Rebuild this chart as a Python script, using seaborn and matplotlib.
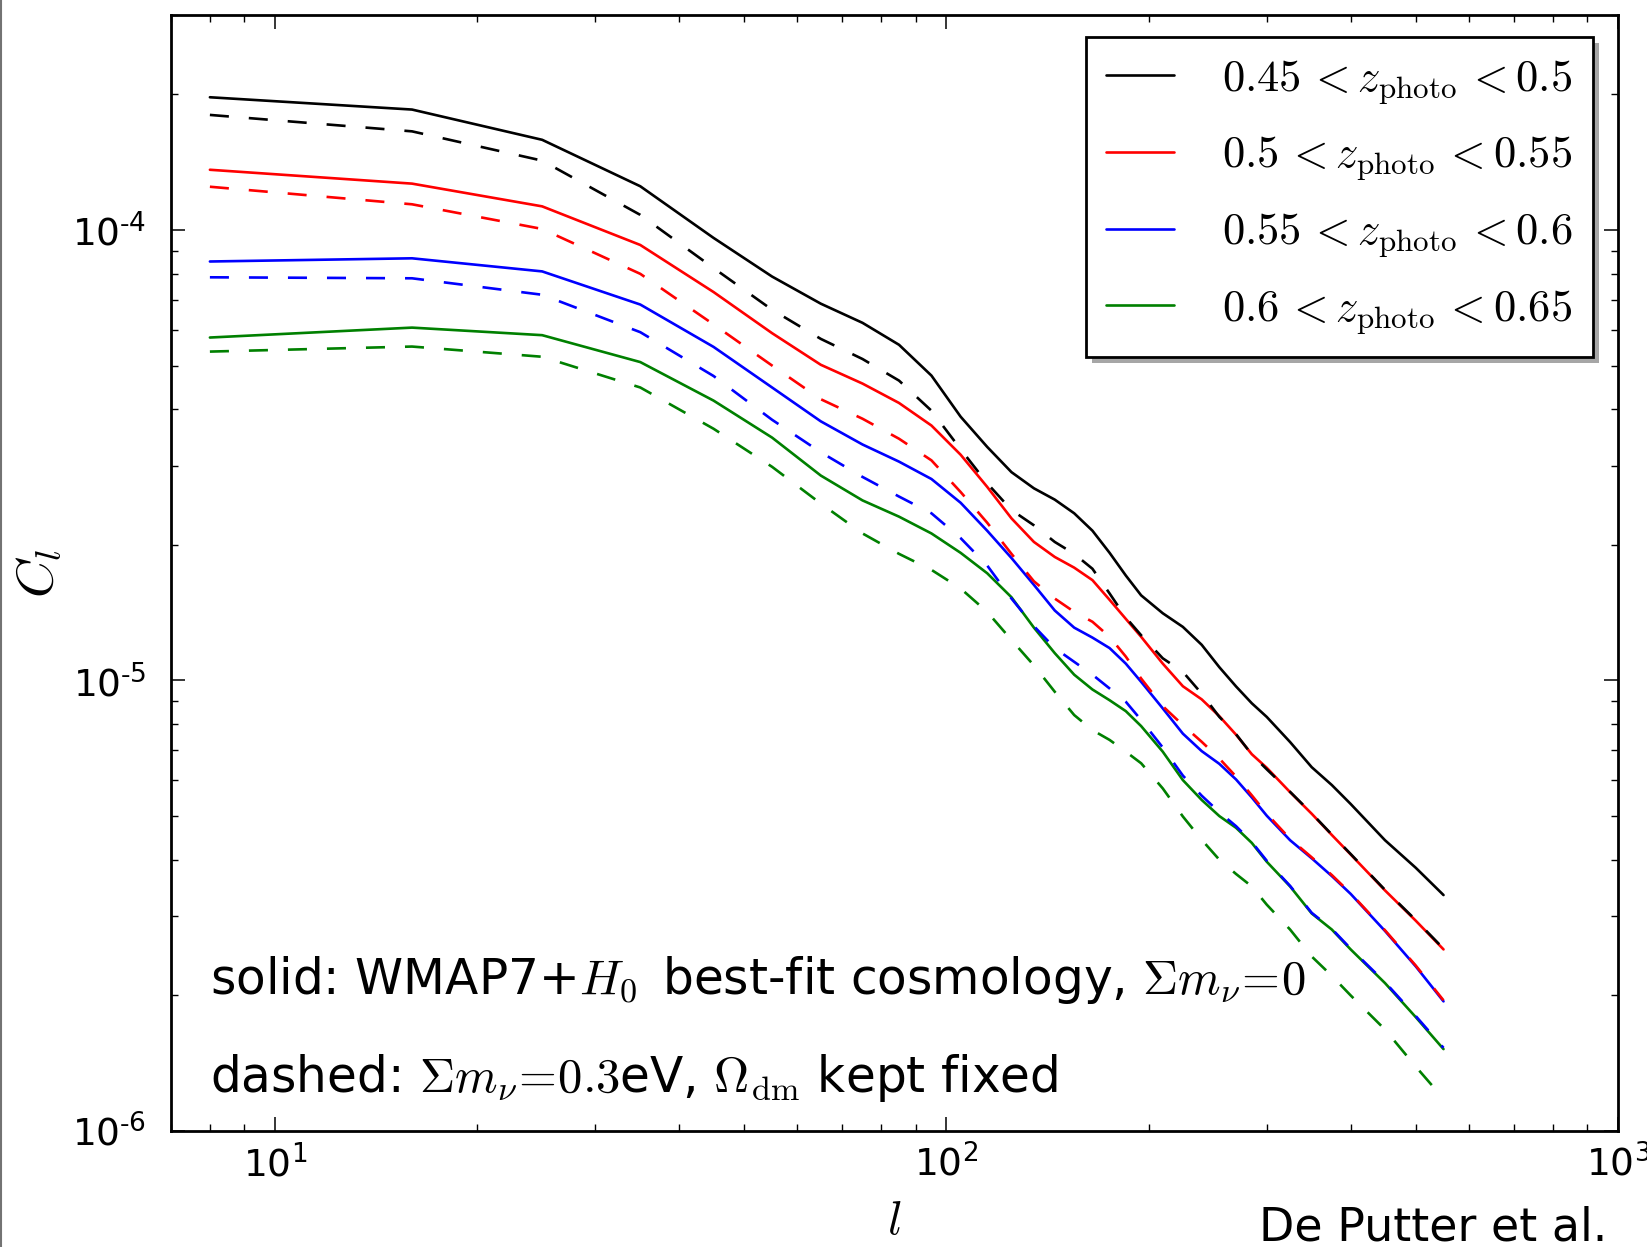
import numpy as np
import pandas as pd
import matplotlib
matplotlib.use("Agg")
import matplotlib.pyplot as plt
from matplotlib.lines import Line2D
from matplotlib.patches import Rectangle
from matplotlib.transforms import IdentityTransform
from matplotlib.ticker import FuncFormatter
import seaborn as sns

# multipoles
ell = [8, 16, 25, 35, 45, 55, 65, 75, 85, 95, 105, 115, 125, 135, 145, 155, 165,
       175, 185, 195, 210, 225, 240, 255, 270, 285, 300, 325, 350, 375, 400, 450,
       500, 550]

# angular power spectra, solid = massless neutrinos, dashed = sum m_nu = 0.3 eV
cl_045_solid = [1.97e-4, 1.85e-4, 1.585e-4, 1.25e-4, 9.6e-5, 7.88e-5, 6.86e-5, 6.22e-5,
                5.56e-5, 4.75e-5, 3.85e-5, 3.30e-5, 2.90e-5, 2.67e-5, 2.52e-5, 2.35e-5,
                2.15e-5, 1.92e-5, 1.71e-5, 1.545e-5, 1.41e-5, 1.315e-5, 1.20e-5, 1.07e-5,
                9.7e-6, 8.9e-6, 8.3e-6, 7.3e-6, 6.42e-6, 5.86e-6, 5.32e-6, 4.42e-6,
                3.84e-6, 3.34e-6]
cl_045_dashed = [1.80e-4, 1.655e-4, 1.425e-4, 1.08e-4, 8.23e-5, 6.65e-5, 5.73e-5, 5.17e-5,
                 4.63e-5, 3.97e-5, 3.26e-5, 2.74e-5, 2.39e-5, 2.21e-5, 2.03e-5, 1.91e-5,
                 1.77e-5, 1.56e-5, 1.38e-5, 1.26e-5, 1.12e-5, 1.045e-5, 9.35e-6, 8.3e-6,
                 7.6e-6, 6.85e-6, 6.35e-6, 5.66e-6, 5.07e-6, 4.55e-6, 4.12e-6, 3.43e-6,
                 2.94e-6, 2.54e-6]
cl_050_solid = [1.36e-4, 1.267e-4, 1.128e-4, 9.26e-5, 7.28e-5, 5.90e-5, 5.02e-5, 4.56e-5,
                4.13e-5, 3.68e-5, 3.17e-5, 2.69e-5, 2.29e-5, 2.03e-5, 1.88e-5, 1.78e-5,
                1.67e-5, 1.51e-5, 1.37e-5, 1.25e-5, 1.09e-5, 9.71e-6, 9.08e-6, 8.33e-6,
                7.58e-6, 6.86e-6, 6.40e-6, 5.65e-6, 5.06e-6, 4.54e-6, 4.11e-6, 3.42e-6,
                2.93e-6, 2.53e-6]
cl_050_dashed = [1.247e-4, 1.14e-4, 1.005e-4, 7.99e-5, 6.17e-5, 5.0e-5, 4.21e-5, 3.81e-5,
                 3.44e-5, 3.08e-5, 2.62e-5, 2.24e-5, 1.91e-5, 1.66e-5, 1.52e-5, 1.42e-5,
                 1.35e-5, 1.25e-5, 1.13e-5, 1.01e-5, 8.77e-6, 7.96e-6, 7.31e-6, 6.71e-6,
                 6.12e-6, 5.56e-6, 5.06e-6, 4.45e-6, 4.05e-6, 3.70e-6, 3.37e-6, 2.79e-6,
                 2.33e-6, 1.95e-6]
cl_055_solid = [8.51e-5, 8.65e-5, 8.09e-5, 6.83e-5, 5.50e-5, 4.47e-5, 3.76e-5, 3.34e-5,
                3.06e-5, 2.80e-5, 2.48e-5, 2.15e-5, 1.87e-5, 1.63e-5, 1.43e-5, 1.31e-5,
                1.245e-5, 1.18e-5, 1.09e-5, 9.93e-6, 8.67e-6, 7.62e-6, 6.97e-6, 6.53e-6,
                6.03e-6, 5.50e-6, 5.01e-6, 4.42e-6, 4.03e-6, 3.68e-6, 3.36e-6, 2.78e-6,
                2.32e-6, 1.94e-6]
cl_055_dashed = [7.85e-5, 7.81e-5, 7.18e-5, 5.93e-5, 4.74e-5, 3.79e-5, 3.21e-5, 2.83e-5,
                 2.56e-5, 2.35e-5, 2.07e-5, 1.80e-5, 1.52e-5, 1.32e-5, 1.18e-5, 1.10e-5,
                 1.03e-5, 9.6e-6, 8.97e-6, 8.17e-6, 7.1e-6, 6.15e-6, 5.55e-6, 5.1e-6,
                 4.75e-6, 4.38e-6, 3.98e-6, 3.50e-6, 3.05e-6, 2.81e-6, 2.54e-6, 2.14e-6,
                 1.80e-6, 1.53e-6]
cl_060_solid = [5.77e-5, 6.07e-5, 5.84e-5, 5.09e-5, 4.18e-5, 3.46e-5, 2.85e-5, 2.51e-5,
                2.31e-5, 2.12e-5, 1.92e-5, 1.73e-5, 1.53e-5, 1.31e-5, 1.15e-5, 1.03e-5,
                9.55e-6, 9.04e-6, 8.55e-6, 7.92e-6, 6.95e-6, 6.01e-6, 5.43e-6, 5.0e-6,
                4.71e-6, 4.36e-6, 3.96e-6, 3.49e-6, 3.04e-6, 2.80e-6, 2.53e-6, 2.13e-6,
                1.79e-6, 1.52e-6]
cl_060_dashed = [5.37e-5, 5.51e-5, 5.23e-5, 4.47e-5, 3.62e-5, 2.98e-5, 2.47e-5, 2.12e-5,
                 1.91e-5, 1.76e-5, 1.60e-5, 1.42e-5, 1.23e-5, 1.08e-5, 9.44e-6, 8.38e-6,
                 7.76e-6, 7.38e-6, 6.95e-6, 6.55e-6, 5.76e-6, 4.99e-6, 4.43e-6, 4.0e-6,
                 3.72e-6, 3.49e-6, 3.18e-6, 2.80e-6, 2.44e-6, 2.21e-6, 2.0e-6, 1.68e-6,
                 1.39e-6, 1.18e-6]

bin_labels = [r"$0.45\,{<}z_{\rm photo}\,{<}0.5$",
              r"$0.5\,{<}z_{\rm photo}\,{<}0.55$",
              r"$0.55\,{<}z_{\rm photo}\,{<}0.6$",
              r"$0.6\,{<}z_{\rm photo}\,{<}0.65$"]
bin_colors = ["black", "red", "blue", "green"]

sns.set_style("white")
plt.rcParams["font.family"] = ["DejaVu Sans"]
plt.rcParams["mathtext.fontset"] = "cm"
plt.rcParams["lines.scale_dashes"] = False
for key in ["text.color", "axes.labelcolor", "xtick.color", "ytick.color"]:
    plt.rcParams[key] = "black"

fig = plt.figure(figsize=(16.47, 12.47), dpi=100)
ax = fig.add_axes([0.1038, 0.0930, 0.8785, 0.8950])

solid_sets = [cl_045_solid, cl_050_solid, cl_055_solid, cl_060_solid]
dashed_sets = [cl_045_dashed, cl_050_dashed, cl_055_dashed, cl_060_dashed]

for vals, col, lab in zip(solid_sets, bin_colors, bin_labels):
    sns.lineplot(x=ell, y=vals, color=col, linewidth=1.9, label=lab,
                 sort=False, estimator=None, ax=ax)
for vals, col in zip(dashed_sets, bin_colors):
    sns.lineplot(x=ell, y=vals, color=col, linewidth=1.9, sort=False,
                 estimator=None, ax=ax)
    ax.lines[-1].set_dashes((13.7, 14.4))

ax.set_xscale("log")
ax.set_yscale("log")
ax.set_xlim(7, 1000)
ax.set_ylim(1e-6, 3e-4)


def power_label(val, pos):
    exp = int(round(np.log10(val)))
    if exp < 0:
        return r"$\mathdefault{10^{\text{-}%d}}$" % (-exp)
    return r"$\mathdefault{10^{%d}}$" % exp


ax.xaxis.set_major_formatter(FuncFormatter(power_label))
ax.yaxis.set_major_formatter(FuncFormatter(power_label))

for side in ax.spines.values():
    side.set_linewidth(2.0)
    side.set_color("black")
ax.tick_params(which="both", direction="in", top=True, right=True,
               bottom=True, left=True, color="black")
ax.tick_params(which="major", length=10, width=1.1, labelsize=27)
ax.tick_params(axis="x", which="major", pad=10)
ax.tick_params(axis="y", which="major", pad=18)
ax.tick_params(which="minor", length=5, width=1.0)

ax.set_xlabel(r"$l$", fontsize=34, labelpad=10)
ax.set_ylabel(r"$C_l$", fontsize=38, labelpad=6)

leg = ax.legend(loc="upper right", bbox_to_anchor=(0.9827, 0.9803),
                borderaxespad=0.0, fontsize=32, frameon=True, fancybox=False,
                handlelength=1.53, handletextpad=1.1, labelspacing=0.61,
                borderpad=0.45)
leg.get_frame().set_edgecolor("black")
leg.get_frame().set_linewidth(2.0)
leg.get_frame().set_alpha(1.0)
leg.set_zorder(6)
for h in leg.get_lines():
    h.set_linewidth(1.9)

ax.text(0.027, 0.1228,
        r"solid: WMAP7+$H_0\,$ best-fit cosmology, $\Sigma m_\nu\!=\!0$",
        transform=ax.transAxes, fontsize=35, va="baseline", ha="left")
ax.text(0.027, 0.035,
        r"dashed: $\Sigma m_\nu\!=\!0.3$eV, $\Omega_{\rm dm}$ kept fixed",
        transform=ax.transAxes, fontsize=35, va="baseline", ha="left")

fig.text(0.9757, 0.0056, "De Putter et al.", ha="right", va="baseline",
         fontsize=33)

# thin grey rule along the left border of the figure
fig.add_artist(Line2D([0.0008, 0.0008], [0, 1], transform=fig.transFigure,
                      color="0.45", linewidth=1.5))

# drop shadow behind the legend frame, drawn inside the axes below the legend
fig.canvas.draw()
bb = leg.get_window_extent()
shadow = Rectangle((bb.x0 + 6, bb.y0 - 6), bb.width, bb.height,
                   transform=IdentityTransform(), facecolor="0.65",
                   edgecolor="none", zorder=5, clip_on=False)
ax.add_artist(shadow)

fig.savefig("out.png", dpi=100)
